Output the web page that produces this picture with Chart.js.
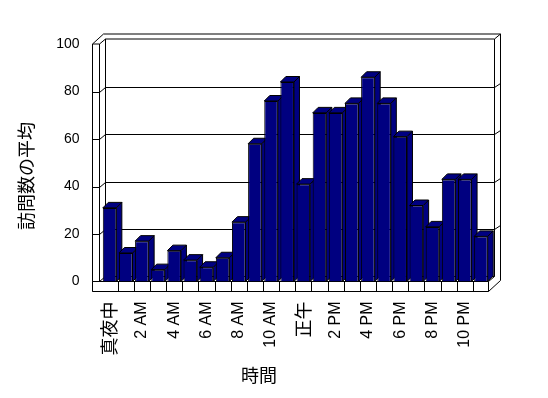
<!DOCTYPE html>
<html>
<head>
<meta charset="utf-8">
<script src="https://cdn.jsdelivr.net/npm/chart.js@4.4.1/dist/chart.umd.min.js"></script>
<style>
  body { margin: 0; background: #fff; }
  canvas { display: block; }
</style>
</head>
<body>
<canvas id="visits" width="548" height="398"></canvas>
<script>
// hourly categories, only every 2nd one gets a label
var hours = ['真夜中', '1 AM', '2 AM', '3 AM', '4 AM', '5 AM', '6 AM', '7 AM', '8 AM', '9 AM', '10 AM', '11 AM',
             '正午', '1 PM', '2 PM', '3 PM', '4 PM', '5 PM', '6 PM', '7 PM', '8 PM', '9 PM', '10 PM', '11 PM'];
var avgVisits = [31, 12, 17, 5, 13, 9, 6, 10, 25, 58, 76, 84, 41, 71, 71, 75, 86, 75, 61, 32, 23, 43, 43, 19];
var yTicks = [0, 20, 40, 60, 80, 100];
var yTitle = '訪問数の平均';
var xTitle = '時間';

var navy = '#000080';
var barDepth = 5.5;

function line(ctx, pts) {
    ctx.beginPath();
    ctx.moveTo(pts[0][0], pts[0][1]);
    for (var i = 1; i < pts.length; i++) {
        ctx.lineTo(pts[i][0], pts[i][1]);
    }
    ctx.stroke();
}

function poly(ctx, pts) {
    ctx.beginPath();
    ctx.moveTo(pts[0][0], pts[0][1]);
    for (var i = 1; i < pts.length; i++) {
        ctx.lineTo(pts[i][0], pts[i][1]);
    }
    ctx.closePath();
    ctx.fill();
    ctx.stroke();
}

// excel style box: walls, floor, back gridlines, then sides/tops of the bars
var box3d = {
    id: 'box3d',
    beforeDatasetsDraw: function(chart) {
        var ctx = chart.ctx;
        var a = chart.chartArea;
        var ys = chart.scales.y;
        var xs = chart.scales.x;
        var L = a.left, R = a.right, T = a.top, B = a.bottom;
        var outL = L - 9, inL = L - 2, backL = inL + 6;
        var backR = R + 5.5, outR = backR + 6;
        var floorR = R - 0.5, floorB = B + 10;

        ctx.save();
        ctx.strokeStyle = '#000';
        ctx.lineWidth = 1;
        ctx.fillStyle = '#fff';

        // left wall + back wall outline
        line(ctx, [[outL, floorB], [outL, T], [outL + 11, T - 10], [outR, T - 10], [outR, B - 1]]);
        line(ctx, [[outL, T], [inL, T], [inL, B]]);
        line(ctx, [[inL, T], [backL, T - 5], [backR, T - 5], [outR, T - 10]]);
        line(ctx, [[backL, T - 5], [backL, B - 5]]);
        line(ctx, [[backR, T - 5], [backR, B - 5]]);

        // gridlines on left wall and back wall
        for (var i = 1; i < yTicks.length - 1; i++) {
            var yy = Math.round(ys.getPixelForValue(yTicks[i])) + 0.5;
            line(ctx, [[outL, yy], [inL, yy], [backL, yy - 5], [backR, yy - 5], [outR, yy - 9]]);
        }

        // floor
        line(ctx, [[inL, B], [backL, B - 5], [backR, B - 5]]);
        ctx.beginPath();
        ctx.rect(outL, B, floorR - outL, floorB - B);
        ctx.fill();
        ctx.stroke();
        line(ctx, [[floorR, floorB], [outR, B - 1]]);
        line(ctx, [[floorR, B], [backR, B - 5]]);
        for (var k = 1; k < hours.length; k++) {
            var xx = Math.round(xs.getPixelForValue(k) - (xs.getPixelForValue(1) - xs.getPixelForValue(0)) / 2) + 0.5;
            line(ctx, [[xx, B], [xx, floorB]]);
        }

        // bar tops and right sides, left to right
        ctx.fillStyle = navy;
        var meta = chart.getDatasetMeta(0);
        meta.data.forEach(function(bar) {
            var l = bar.x - bar.width / 2;
            var r = bar.x + bar.width / 2;
            var d = barDepth;
            poly(ctx, [[r, bar.y], [r + d, bar.y - d], [r + d, bar.base - d], [r, bar.base]]);
            poly(ctx, [[l, bar.y], [l + d, bar.y - d], [r + d, bar.y - d], [r, bar.y]]);
        });
        ctx.restore();
    },
    afterDraw: function(chart) {
        var ctx = chart.ctx;
        ctx.save();
        ctx.fillStyle = '#000';
        ctx.font = "18px 'Noto Sans CJK JP'";
        ctx.textAlign = 'center';
        ctx.textBaseline = 'middle';
        ctx.fillText(xTitle, 259, 375);
        ctx.translate(26, 176);
        ctx.rotate(-Math.PI / 2);
        ctx.fillText(yTitle, 0, 0);
        ctx.restore();
    }
};

var ctx = document.getElementById('visits').getContext('2d');
var chart = new Chart(ctx, {
    type: 'bar',
    data: {
        labels: hours,
        datasets: [{
            label: yTitle,
            data: avgVisits,
            backgroundColor: navy,
            borderColor: '#000',
            borderWidth: 1,
            barPercentage: 0.84,
            categoryPercentage: 1
        }]
    },
    options: {
        responsive: false,
        animation: false,
        layout: { padding: { left: 0, top: 44, right: 59, bottom: 0 } },
        plugins: {
            legend: { display: false },
            tooltip: { enabled: false }
        },
        scales: {
            x: {
                grid: { display: false, drawTicks: false },
                border: { display: false },
                afterFit: function(scale) { scale.height = 116.5; },
                ticks: {
                    autoSkip: false,
                    minRotation: 90,
                    maxRotation: 90,
                    padding: 20,
                    color: '#000',
                    font: function(c) {
                        var lbl = hours[c.index] || '';
                        if (/[^\x00-\x7f]/.test(lbl)) {
                            return { family: "'Noto Sans CJK JP'", size: 18 };
                        }
                        return { family: "'Liberation Sans', Arial", size: 16 };
                    },
                    callback: function(val, i) {
                        return i % 2 === 0 ? hours[i] : '';
                    }
                }
            },
            y: {
                min: 0,
                max: 100,
                grid: { display: false, drawTicks: false },
                border: { display: false },
                afterFit: function(scale) { scale.width = 101.5; },
                ticks: {
                    stepSize: 20,
                    padding: 22,
                    color: '#000',
                    font: { family: "'Liberation Sans', Arial", size: 14 }
                }
            }
        }
    },
    plugins: [box3d]
});
</script>
</body>
</html>
